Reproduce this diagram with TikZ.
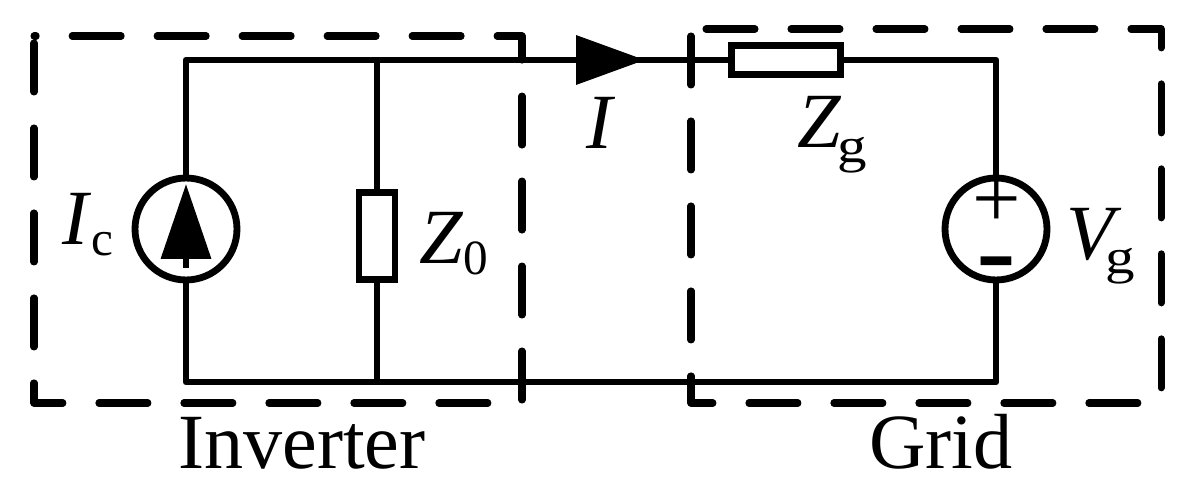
\documentclass[tikz,border=0pt]{standalone}
\usepackage{fontspec}
\setmainfont{Liberation Serif}
\usepackage{graphicx}
\usepackage{tikz}
\usetikzlibrary{arrows.meta}

\newcommand{\lowtext}[2]{\raisebox{#1}{\fontsize{28}{29}\selectfont #2}}

\tikzset{
	wire/.style={line width=3.9pt, line join=round},
	vbox/.style={draw, line width=3.9pt, fill=white, minimum width=0.72cm, minimum height=1.74cm, inner sep=0pt},
	hbox/.style={draw, line width=3.9pt, fill=white, minimum width=2.19cm, minimum height=0.59cm, inner sep=0pt},
	srcnode/.style={draw, circle, line width=3.9pt, fill=white, minimum size=2.04cm, inner sep=0pt},
	region/.style={line width=4pt, line cap=round, line join=round, dash pattern=on 0.98cm off 0.72cm},
	lab/.style={font=\fontsize{44.5}{48}\selectfont, inner sep=0pt, anchor=base west},
	bigtext/.style={font=\fontsize{44.5}{48}\selectfont, inner sep=0pt, anchor=base}
}

\begin{document}
\begin{tikzpicture}[x=0.02cm,y=-0.02cm]
	\useasboundingbox (0,0) rectangle (1189,496);
	% corners of the circuit
	\coordinate (tl) at (186,60);
	\coordinate (tm) at (377,60);
	\coordinate (tr) at (996,60);
	\coordinate (bl) at (186,382);
	\coordinate (bm) at (377,382);
	\coordinate (br) at (996,382);
	\draw[wire] (tl)--(bl)--(br)--(tr)--cycle;
	\draw[wire] (tm)--(bm);
	% elements
	\node[srcnode] (Ic) at (186,229) {};
	\node[vbox] (Zo) at (377,236) {};
	\node[hbox] (Zg) at (786,60) {};
	\node[srcnode] (Vg) at (996,229) {};
	\coordinate (Ica) at (186,268);
	\coordinate (Icb) at (186,184);
	\draw[wire,-{Triangle[length=1.5cm,width=0.98cm]}] (Ica)--(Icb);
	\coordinate (Ia) at (560,60);
	\coordinate (Ib) at (645,60);
	\draw[wire,-{Triangle[length=1.38cm,width=0.96cm]}] (Ia)--(Ib);
	\node[font=\fontsize{49}{50}\selectfont, inner sep=0pt] (plus) at (997,203) {+};
	\node[font=\fontsize{34}{36}\selectfont\bfseries, inner sep=0pt] (minus) at (996,274) {\scalebox{1}[2.1]{–}};
	% dashed regions
	\draw[region] (34,43)--(34,403)--(490,403);
	\draw[region] (522,400)--(522,36)--(34,36);
	\draw[region] (691,36)--(691,403)--(1142,403);
	\draw[region] (706,29)--(1161,29)--(1161,389);
	% labels
	\node[lab] (Icl) at (62,245) {\textit{I}\lowtext{-6.2pt}{c}};
	\node[lab] (Zol) at (419,264) {\textit{Z}\lowtext{-6.2pt}{0}};
	\node[lab] (Il) at (586,149) {\textit{I}};
	\node[lab] (Zgl) at (797,148) {\textit{Z}\kern-2.5pt\lowtext{-8.5pt}{\scalebox{1.2}[1]{g}}};
	\node[lab] (Vgl) at (1066,260) {\textit{V}\kern-9.4pt\lowtext{-7.4pt}{\scalebox{1.2}[1]{g}}};
	\node[bigtext] (inv) at (302,468) {Inverter};
	\node[bigtext] (grid) at (941,468) {Grid};
\end{tikzpicture}
\end{document}
